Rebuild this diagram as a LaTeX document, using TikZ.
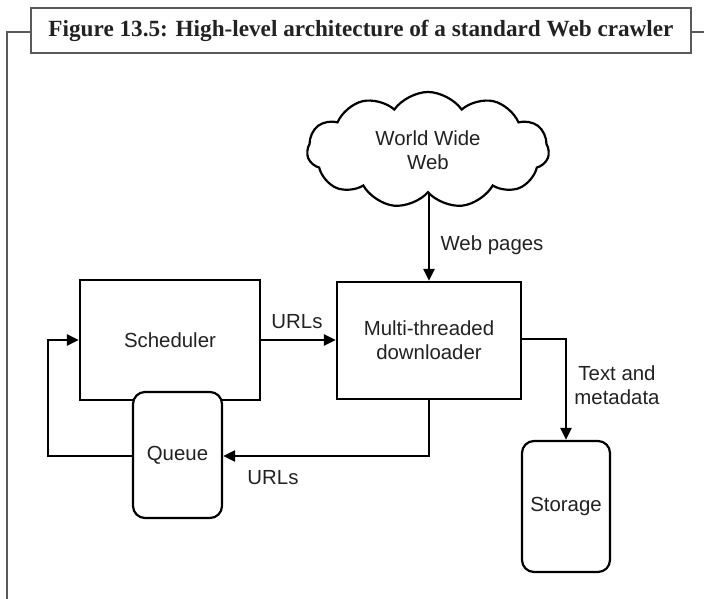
\documentclass[tikz,border=0pt]{standalone}
\usepackage{fontspec}
\setmainfont{Liberation Sans}
\newfontfamily\titlefont{Liberation Serif}
\usetikzlibrary{arrows.meta,shapes.symbols,positioning}
\definecolor{framegray}{HTML}{5A5A5A}
\definecolor{txt}{HTML}{222222}
\tikzset{
  boxnode/.style={draw=black, line width=2.2pt, fill=white, text=txt, font=\fontsize{20.4}{24}\selectfont, align=center, inner sep=0pt},
  roundbox/.style={boxnode, rounded corners=12pt},
  conn/.style={draw=black, line width=2.6pt, -{Triangle[length=12pt,width=11pt]}},
  lbl/.style={text=txt, font=\fontsize{20.4}{24}\selectfont, align=center, inner sep=0pt},
}
\begin{document}
\begin{tikzpicture}[x=1pt,y=-1pt]
\useasboundingbox (0,0) rectangle (704,599);
% frame
\node[draw=framegray, line width=1.4pt, minimum width=660pt, minimum height=45pt, inner sep=0pt,
      font=\titlefont\bfseries\fontsize{23.2}{27}\selectfont, text=txt] (title) at (361,30.5)
      {Figure 13.5: High-level architecture of a standard Web crawler};
\coordinate (fl) at (7,32);
\coordinate (fb) at (7,599);
\coordinate (fr) at (704,32);
\draw[framegray, line width=1.8pt] (title.west |- fl) -- (fl) -- (fb);
\draw[framegray, line width=1.4pt] (title.east |- fr) -- (fr);
% nodes
\node[cloud, cloud puffs=11, cloud puff arc=110, aspect=2, draw=black, line width=2.2pt, fill=white,
      minimum width=242pt, minimum height=116pt, inner sep=0pt, text=txt,
      font=\fontsize{20.4}{24}\selectfont, align=center] (www) at (428,150) {World Wide\\Web};
\node[boxnode, minimum width=180pt, minimum height=120pt] (sched) at (170,340) {Scheduler};
\node[boxnode, minimum width=184pt, minimum height=117pt] (dl) at (429,340.5) {Multi-threaded\\downloader};
\node[roundbox, minimum width=89pt, minimum height=126pt] (queue) at (177.5,455) {Queue};
\node[roundbox, minimum width=88pt, minimum height=131pt] (store) at (566,506.5) {Storage};
% connectors
\draw[conn] (www.south -| dl.north) -- (dl.north);
\node[lbl] (lwp) at (492,245) {Web pages};
\draw[conn] (sched.east) -- (sched.east -| dl.west);
\node[lbl] (lu1) at (297,322) {URLs};
\coordinate (c1) at (566,339);
\draw[conn] (c1 -| dl.east) -- (c1) -- (store.north);
\node[lbl] (ltm) at (617,385) {Text and\\metadata};
\coordinate (c2) at (429,456);
\draw[conn] (dl.south) -- (c2) -- (c2 -| queue.east);
\node[lbl] (lu2) at (273,478) {URLs};
\coordinate (c3) at (48,456);
\draw[conn] (c3 -| queue.west) -- (c3) -- (c3 |- sched.west) -- (sched.west);
\end{tikzpicture}
\end{document}
